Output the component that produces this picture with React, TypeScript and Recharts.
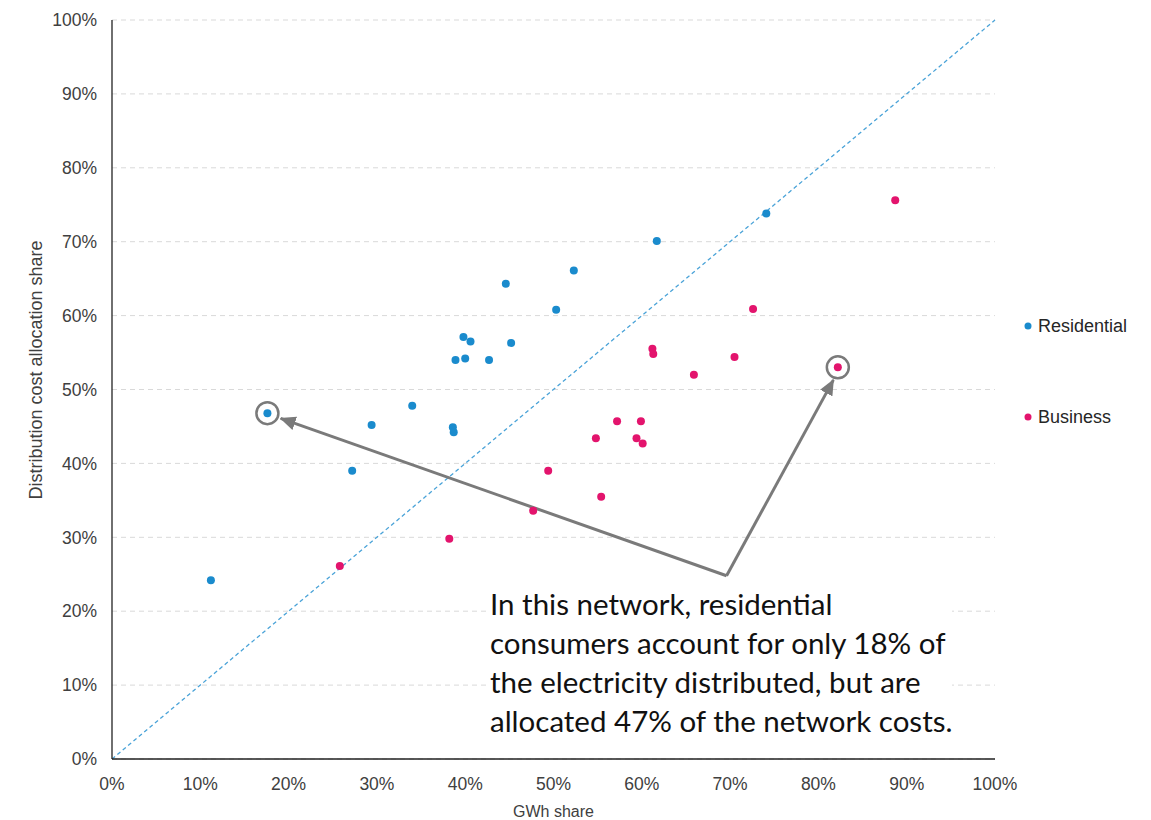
import React from "react";
import {
  CartesianGrid,
  Legend,
  ReferenceDot,
  ReferenceLine,
  Scatter,
  ScatterChart,
  XAxis,
  YAxis,
} from "recharts";

// values, in percent
const residentialGwh = [17.6, 29.4, 34.0, 38.6, 38.7, 27.2, 38.9, 40.0, 42.7, 39.8, 40.6, 45.2, 44.6, 50.3, 52.3, 61.7, 74.1, 11.2];
const residentialCost = [46.8, 45.2, 47.8, 44.9, 44.2, 39.0, 54.0, 54.2, 54.0, 57.1, 56.5, 56.3, 64.3, 60.8, 66.1, 70.1, 73.8, 24.2];

const businessGwh = [82.2, 72.6, 61.2, 61.3, 70.5, 65.9, 57.2, 59.9, 54.8, 59.4, 60.1, 49.4, 55.4, 47.7, 38.2, 25.8, 88.7];
const businessCost = [53.0, 60.9, 55.5, 54.8, 54.4, 52.0, 45.7, 45.7, 43.4, 43.4, 42.7, 39.0, 35.5, 33.6, 29.8, 26.1, 75.6];

const seriesNames = ["Residential", "Business"];
const percentTicks = [0, 10, 20, 30, 40, 50, 60, 70, 80, 90, 100];

// callout arrows: shared elbow, then tips near the two circled points
const arrowElbow = { x: 69.6, y: 24.8 };
const arrowTips = [
  { x: 19.1, y: 46.1 },
  { x: 81.7, y: 51.3 },
];

const noteLines = [
  "In this network, residential",
  "consumers account for only 18% of",
  "the electricity distributed, but are",
  "allocated 47% of the network costs.",
];

const residential = residentialGwh.map((x, i) => ({ x, y: residentialCost[i] }));
const business = businessGwh.map((x, i) => ({ x, y: businessCost[i] }));

const BLUE = "#1a8bcd";
const PINK = "#e3146d";
const GREY = "#7a7a7a";
const FONT = "'Liberation Sans', Arial, sans-serif";

const tickStyle = { fontFamily: FONT, fontSize: 17.5, fill: "#404040" };

const dot = (color: string) => (p: any) => <circle cx={p.cx} cy={p.cy} r={4} fill={color} />;

const arrowShape = (p: any) => (
  <line x1={p.x1} y1={p.y1} x2={p.x2} y2={p.y2} stroke={GREY} strokeWidth={3} markerEnd="url(#arrowHead)" />
);

function LegendContent({ payload }: any) {
  const items = [...(payload || [])].sort(
    (a: any, b: any) => seriesNames.indexOf(a.value) - seriesNames.indexOf(b.value)
  );
  return (
    <div style={{ fontFamily: FONT, fontSize: 18, color: "#262626" }}>
      {items.map((entry: any, i: number) => (
        <div
          key={entry.value}
          style={{ display: "flex", alignItems: "center", height: 20, marginTop: i ? 71 : 0 }}
        >
          <svg width={10} height={10}>
            <circle cx={5} cy={5} r={3.5} fill={entry.color} />
          </svg>
          <span style={{ marginLeft: 5 }}>{entry.value}</span>
        </div>
      ))}
    </div>
  );
}

export default function App() {
  return (
    <div style={{ position: "absolute", left: 0, top: 0, width: 1151, height: 820, background: "#fff" }}>
      <ScatterChart width={1151} height={820} margin={{ top: 20, right: 156, bottom: 0, left: 0 }}>
        <defs>
          <marker
            id="arrowHead"
            viewBox="0 0 16 14"
            refX={15}
            refY={7}
            markerWidth={16}
            markerHeight={14}
            markerUnits="userSpaceOnUse"
            orient="auto"
          >
            <path d="M0,0 L16,7 L0,14 z" fill={GREY} />
          </marker>
        </defs>
        <CartesianGrid vertical={false} stroke="#d9d9d9" strokeDasharray="5 4" />
        <XAxis
          type="number"
          dataKey="x"
          domain={[0, 100]}
          ticks={percentTicks}
          tickFormatter={(v) => `${v}%`}
          height={61}
          tickLine={false}
          tickMargin={13}
          axisLine={{ stroke: "#222", strokeWidth: 1.3 }}
          tick={tickStyle}
          label={{ value: "GWh share", position: "insideBottom", offset: 3, style: { fontFamily: FONT, fontSize: 16, fill: "#404040" } }}
        />
        <YAxis
          type="number"
          dataKey="y"
          domain={[0, 100]}
          ticks={percentTicks}
          tickFormatter={(v) => `${v}%`}
          width={112}
          tickLine={false}
          tickMargin={9}
          axisLine={{ stroke: "#222", strokeWidth: 1.3 }}
          tick={tickStyle}
          label={() => (
            <text
              x={36}
              y={370}
              transform="rotate(-90 36 370)"
              textAnchor="middle"
              dominantBaseline="central"
              style={{ fontFamily: FONT, fontSize: 18, fill: "#404040" }}
            >
              Distribution cost allocation share
            </text>
          )}
        />
        <ReferenceLine
          segment={[{ x: 0, y: 0 }, { x: 100, y: 100 }]}
          stroke="#4aa3d8"
          strokeWidth={1.3}
          strokeDasharray="4 3"
          ifOverflow="visible"
        />
        <Legend
          layout="vertical"
          align="center"
          verticalAlign="middle"
          wrapperStyle={{ left: 1023, top: 316, width: 128 }}
          content={<LegendContent />}
        />
        <Scatter name="Residential" data={residential} fill={BLUE} shape={dot(BLUE)} isAnimationActive={false} />
        <Scatter name="Business" data={business} fill={PINK} shape={dot(PINK)} isAnimationActive={false} />
        <ReferenceDot x={residentialGwh[0]} y={residentialCost[0]} r={11} fill="none" stroke={GREY} strokeWidth={2.5} />
        <ReferenceDot x={businessGwh[0]} y={businessCost[0]} r={11} fill="none" stroke={GREY} strokeWidth={2.5} />
        {arrowTips.map((tip, i) => (
          <ReferenceLine key={i} segment={[arrowElbow, tip]} shape={arrowShape} ifOverflow="visible" />
        ))}
      </ScatterChart>
      <div
        style={{
          position: "absolute",
          left: 490,
          top: 584,
          fontFamily: "Lato, 'Noto Sans', sans-serif",
          fontSize: 29.5,
          lineHeight: "39px",
          color: "#111",
          whiteSpace: "pre",
          background: "#fff",
        }}
      >
        {noteLines.map((line) => (
          <div key={line}>{line}</div>
        ))}
      </div>
    </div>
  );
}
